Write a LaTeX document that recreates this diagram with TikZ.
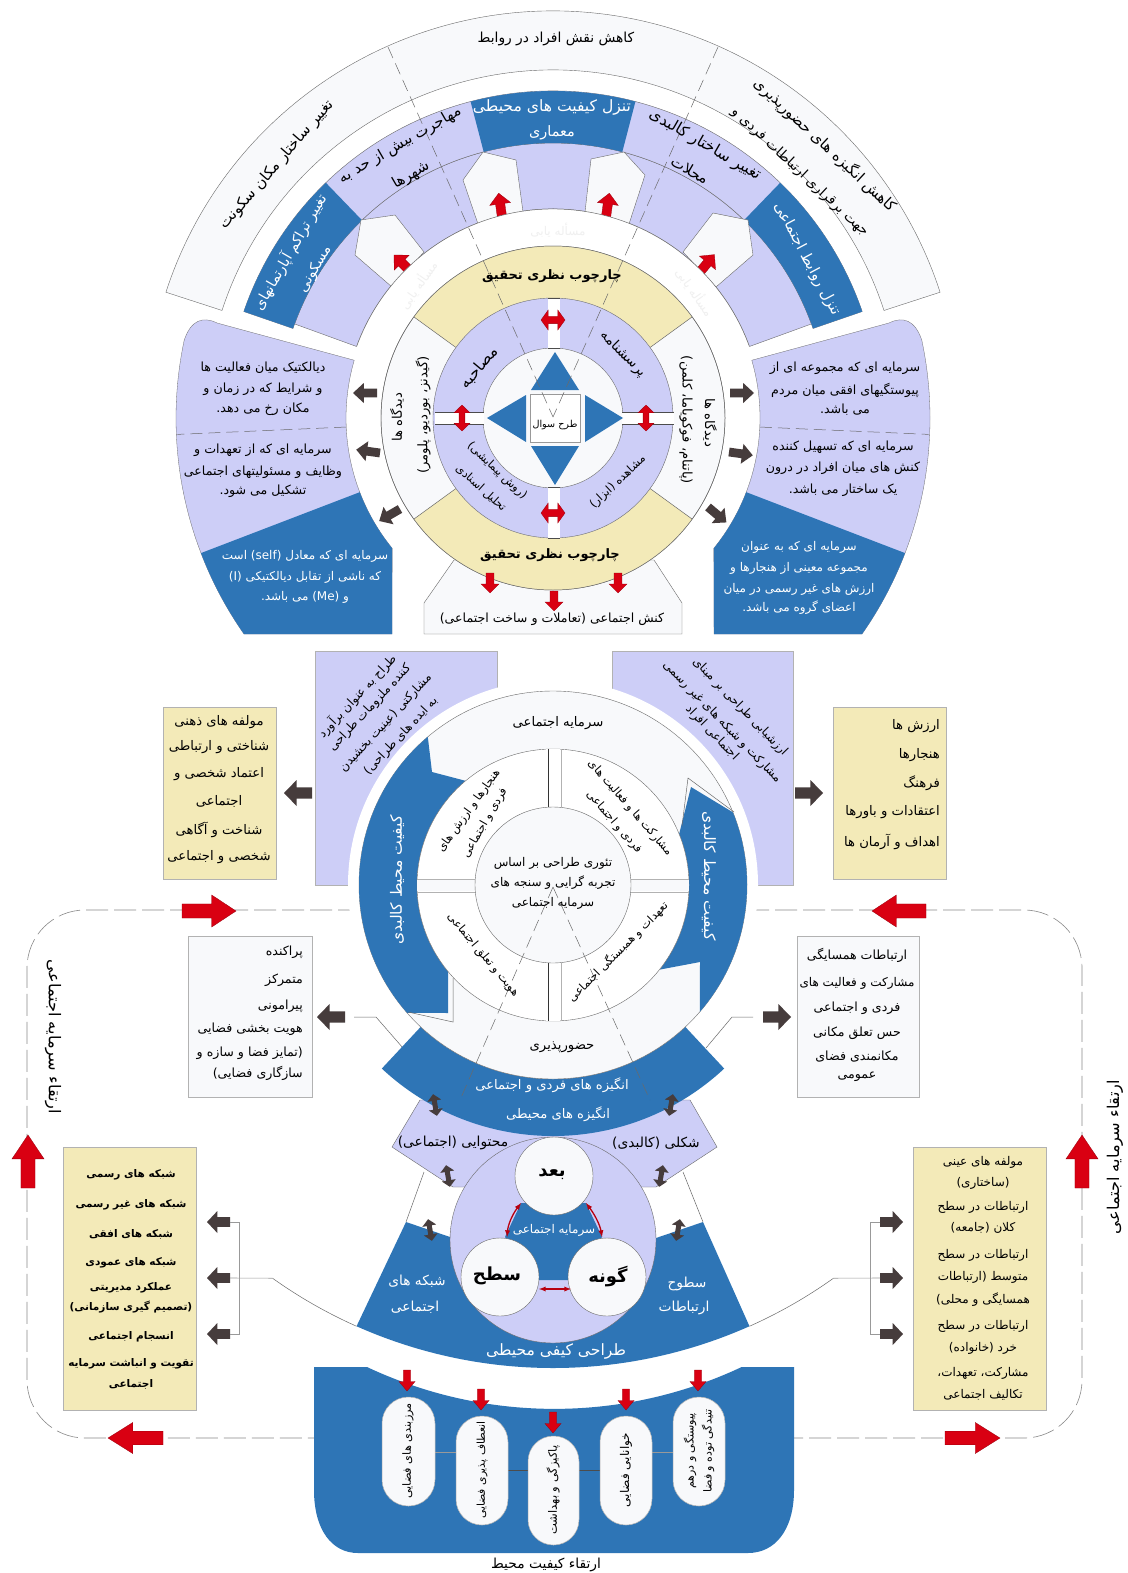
\documentclass[tikz,border=0pt]{standalone}
\usepackage{fontspec}
\newfontfamily\arfont[Script=Arabic]{DejaVu Sans}
\TeXXeTstate=1
\definecolor{lavc}{HTML}{CDCEF7}
\definecolor{bluc}{HTML}{2E75B6}
\definecolor{yelc}{HTML}{F3EAB8}
\definecolor{offc}{HTML}{F8F9FB}
\definecolor{redc}{HTML}{D90012}
\definecolor{darc}{HTML}{463C3C}
\definecolor{linc}{HTML}{6A6A6A}
\newcount\nc
\newcommand\lt[1]{\beginL #1\endL{}}
\newcommand\fsz[1]{\pgfmathsetmacro\fszv{#1*1.2}\fontsize{\fszv}{\fszv}\selectfont\arfont}
\newcommand\tx[5][]{\global\advance\nc by 1 \node[fs=10.5,inner sep=0pt,rotate=#4,#1] (t\the\nc) at (#2,-#3) {#5};}
\newcommand\seg[5][]{\path[#1] (#2:#4) arc[start angle=#2,end angle=#3,radius=#4] -- (#3:#5) arc[start angle=#3,end angle=#2,radius=#5] -- cycle;}
\newcommand\arw[6]{\path[#1,shift={(#2,-#3)},rotate=#4,xscale=#5,yscale=#6] (0,-.22)--(.55,-.22)--(.55,-.5)--(1,0)--(.55,.5)--(.55,.22)--(0,.22)--cycle;}
\newcommand\dbl[6]{\path[#1,shift={(#2,-#3)},rotate=#4,xscale=#5,yscale=#6] (-.5,0)--(-.2,.5)--(-.2,.18)--(.2,.18)--(.2,.5)--(.5,0)--(.2,-.5)--(.2,-.18)--(-.2,-.18)--(-.2,-.5)--cycle;}
\tikzset{
 fs/.style={font=\fsz{#1}},
 fb/.style={font=\fontsize{#1}{#1}\selectfont\arfont\bfseries},
 wt/.style={text=white},
 lav/.style={fill=lavc,draw=linc,line width=.4pt},
 blu/.style={fill=bluc,draw=none},
 yel/.style={fill=yelc,draw=none},
 off/.style={fill=offc,draw=linc,line width=.4pt},
 pbox/.style={draw=black!30,line width=.8pt},
 redar/.style={fill=redc,draw=redc!70!black,line width=.3pt},
 darar/.style={fill=darc,draw=none},
 thin1/.style={draw=linc,line width=.5pt},
 lite/.style={draw=black!40,line width=.6pt},
 dsh/.style={draw=linc,line width=.5pt,dash pattern=on 12pt off 6pt},
 frm/.style={draw=linc!80,line width=.6pt,dash pattern=on 22pt off 6pt},
}
\begin{document}
\begin{tikzpicture}[x=1pt,y=1pt]
\useasboundingbox (0,0) rectangle (1127,-1573);
\fill[white] (0,0) rectangle (1127,-1573);
% ---------- outer dashed frame
\draw[frm] (360,-910) -- (85,-910) arc[start angle=90,end angle=180,radius=58] -- (27,-1380) arc[start angle=180,end angle=270,radius=58] -- (314,-1438);
\draw[frm] (747,-910) -- (1024,-910) arc[start angle=90,end angle=0,radius=58] -- (1082,-1380) arc[start angle=0,end angle=-90,radius=58] -- (794,-1438);
% ---------- top group
\begin{scope}[shift={(553,-418)}]
 \seg[off]{18}{162}{348}{407}
 \seg[lav]{20}{160}{209}{275}
 \seg[lav]{19}{161}{275}{327}
 \seg[blu]{75.4}{104.6}{275}{327}
 \seg[blu]{134}{161}{275}{327}
 \seg[blu]{19}{46}{275}{327}
\end{scope}
\path[off] (483,-152)--(516,-160)--(523,-212)--(478,-224)--(463,-180)--cycle;
\path[off] (624,-152)--(591,-159)--(585,-212)--(629,-224)--(645,-175)--cycle;
\path[off] (361,-220)--(395,-215)--(424,-252)--(392,-287)--(355,-255)--cycle;
\path[off] (748,-220)--(713,-213)--(683,-252)--(716,-287)--(753,-255)--cycle;
\arw{redar}{502}{217}{98}{24}{21}
\arw{redar}{606}{217}{82}{24}{21}
\arw{redar}{411}{272}{135}{24}{21}
\arw{redar}{699}{273}{50}{24}{21}
\begin{scope}[shift={(553,-418)}]
 \path[fill=white] (0,0) circle[radius=209];
 \draw[thin1] (20:209) arc[start angle=20,end angle=160,radius=209];
\end{scope}
% side panels
\begin{scope}[shift={(553,-418)}]
 \path[fill=lavc,draw=linc,line width=.3pt] (163.8:207) arc[start angle=163.8,end angle=219,radius=207] -- (-161,-216) -- (-309,-216) arc[start angle=215,end angle=168,radius=376] .. controls (-362,98) and (-350,102) .. (-336,95) -- cycle;
 \path[blu] (201:207) arc[start angle=201,end angle=219,radius=207] -- (-161,-216) -- (-309,-216) arc[start angle=215,end angle=201,radius=376] -- cycle;
 \draw[dsh] (182.5:207) -- (182.5:376);
 \begin{scope}[xscale=-1]
 \path[fill=lavc,draw=linc,line width=.3pt] (163.8:207) arc[start angle=163.8,end angle=219,radius=207] -- (-161,-216) -- (-309,-216) arc[start angle=215,end angle=168,radius=376] .. controls (-362,98) and (-350,102) .. (-336,95) -- cycle;
 \path[blu] (201:207) arc[start angle=201,end angle=219,radius=207] -- (-161,-216) -- (-309,-216) arc[start angle=215,end angle=201,radius=376] -- cycle;
 \draw[dsh] (182.5:207) -- (182.5:376);
 \end{scope}
\end{scope}
% bottom box under the ring
\path[off] (454,-560)--(424,-603)--(424,-634)--(682,-634)--(682,-603)--(654,-560)--cycle;
\begin{scope}[shift={(553,-418)}]
 \path[off] (0,0) circle[radius=172];
 \seg[yel]{36}{144}{120}{172}
 \seg[yel]{216}{324}{120}{172}
 \draw[thin1] (36:120)--(36:172) (144:120)--(144:172) (216:120)--(216:172) (324:120)--(324:172);
 \draw[thin1] (0,0) circle[radius=172];
 \path[lav] (0,0) circle[radius=120];
 \path[off] (0,0) circle[radius=70];
\end{scope}
% connectors of the inner disc
\foreach \a/\b/\c/\d in {548/-298/560/-348, 548/-487/560/-538}{
 \path[fill=white] (\a,\b) rectangle (\c,\d);
 \draw[black!70,line width=.7pt] (\a,\b)--(\c,\b) (\a,\d)--(\c,\d);}
\foreach \a/\b/\c/\d in {435/-412/484/-424, 622/-412/674/-424}{
 \path[fill=white] (\a,\b) rectangle (\c,\d);
 \draw[black!70,line width=.7pt] (\a,\b)--(\c,\b) (\a,\d)--(\c,\d);}
\dbl{redar}{553}{320}{0}{24}{20}
\dbl{redar}{553}{513}{0}{24}{20}
\dbl{redar}{462}{418}{90}{26}{16}
\dbl{redar}{646}{418}{90}{26}{16}
% triangles + square
\path[blu] (555,-352)--(531,-390)--(579,-390)--cycle;
\path[blu] (555,-485)--(531,-446)--(579,-446)--cycle;
\path[blu] (487,-418)--(526,-395)--(526,-442)--cycle;
\path[blu] (623,-418)--(585,-395)--(585,-442)--cycle;
\path[fill=white,draw=black!40,line width=1pt] (530,-394) rectangle (580,-442);
% red arrows to bottom box
\arw{redar}{490}{573}{-90}{20}{18}
\arw{redar}{618}{573}{-90}{20}{18}
\arw{redar}{554}{591}{-90}{20}{18}
% dark arrows round the ring
\arw{darar}{377}{393}{180}{24}{20}
\arw{darar}{380}{453}{172}{24}{20}
\arw{darar}{400}{509}{210}{24}{20}
\arw{darar}{730}{393}{0}{24}{20}
\arw{darar}{729}{452}{-8}{24}{20}
\arw{darar}{708}{507}{-40}{24}{20}
% dashed radial lines
\draw[dsh] (388,-47) -- (553,-417);
\draw[dsh] (718,-47) -- (553,-417);
% ---------- middle group
\path[fill=lavc,pbox] (315,-651) rectangle (497,-885);
\path[fill=lavc,pbox] (612,-651) rectangle (793,-885);
\path[fill=yelc,pbox] (163,-707) rectangle (276,-879);
\path[fill=yelc,pbox] (833,-707) rectangle (946,-879);
\path[fill=offc,pbox] (188,-936) rectangle (312,-1097);
\path[fill=offc,pbox] (797,-936) rectangle (919,-1097);
\arw{darar}{312}{793}{180}{28}{26}
\arw{darar}{795}{793}{0}{28}{26}
\arw{darar}{345}{1017}{180}{28}{26}
\arw{darar}{763}{1017}{0}{28}{26}
\draw[thin1] (354,-1017)--(376,-1017)--(403,-1048);
\draw[thin1] (753,-1017)--(732,-1017)--(706,-1048);
% wings
\path[lav] (420,-1100)--(392,-1147)--(453,-1187)--(656,-1187)--(717,-1147)--(690,-1100)--cycle;
\begin{scope}[shift={(553,-885)}]
 \path[fill=white] (0,0) circle[radius=205];
 \seg[blu]{227}{313}{194}{251}
 \path[off] (0,0) circle[radius=194];
 \path[blu] (130.2:194) arc[start angle=130.2,end angle=221.2,radius=194] -- (-105,-128) -- (219.6:136) arc[start angle=219.6,end angle=130,radius=136] -- (-121,113) -- cycle;
 \path[blu] (22:194) arc[start angle=22,end angle=-40.8,radius=194] -- (147,-77) -- (-38.5:136) arc[start angle=-38.5,end angle=22,radius=136] -- (138,98) -- cycle;
 \draw[thin1] (129,59)--(135,107)--(181,73);
 \draw[thin1] (-145,-127)--(-100,-137)--(-100,-93);
 \path[fill=white,draw=linc,line width=.4pt] (0,0) circle[radius=136];
 \path[fill=offc,draw=none] (-136,-6) rectangle (136,6);
 \path[fill=white,draw=none] (-7,78) rectangle (7,136);
 \path[fill=white,draw=none] (-7,-78) rectangle (7,-136);
 \draw[black!80,line width=.7pt] (-5,78)--(-5,136) (-5,-78)--(-5,-136);
 \draw[black!30,line width=.7pt] (8,78)--(8,136) (8,-78)--(8,-136);
 \draw[black!30,line width=.5pt] (-136,6)--(-75,6) (-136,-7)--(-75,-7) (136,6)--(75,6) (136,-7)--(75,-7);
 \path[off] (0,0) circle[radius=78];
\end{scope}
\draw[dsh] (553,-887) -- (460,-1100);
\draw[dsh] (553,-887) -- (650,-1100);
% red frame arrows
\arw{redar}{182}{911}{0}{54}{32}
\arw{redar}{926}{911}{180}{54}{32}
\arw{redar}{163}{1438}{180}{55}{31}
\arw{redar}{945}{1438}{0}{55}{31}
\arw{redar}{28}{1188}{90}{53}{32}
\arw{redar}{1082}{1188}{90}{53}{32}
% ---------- lower group
\path[fill=yelc,pbox] (63,-1147) rectangle (196,-1410);
\path[fill=yelc,pbox] (913,-1147) rectangle (1046,-1410);
\foreach \y in {1222,1278,1334}{
 \arw{darar}{230}{\y}{180}{23}{22}
 \arw{darar}{880}{\y}{0}{23}{22}
}
\draw[lite] (230,-1222)--(239,-1222)--(239,-1334)--(230,-1334);
\draw[lite] (880,-1222)--(870,-1222)--(870,-1334)--(880,-1334);
\begin{scope}[shift={(553,-885)}]
 \path[blu] (246:483) arc[start angle=246,end angle=294,radius=483] -- (150,-337) -- (103,-353) -- (-100,-353) -- (-147,-337) -- cycle;
 \draw[thin1] (246:483) arc[start angle=246,end angle=234.5,radius=483];
 \draw[lite] (234.5:483) -- (-323,-393);
 \draw[thin1] (294:483) arc[start angle=294,end angle=305.5,radius=483];
 \draw[lite] (305.5:483) -- (327,-393);
\end{scope}
\draw[thin1] (424,-1172)--(406,-1222);
\draw[thin1] (683,-1172)--(703,-1222);
\path[lav] (553,-1240) circle[radius=103];
\path[blu] (521,-1203)--(586,-1203)--(602,-1237)--(568,-1280)--(539,-1280)--(505,-1237)--cycle;
\path[off] (554,-1176) circle[radius=39];
\path[off] (500,-1277) circle[radius=39];
\path[off] (607,-1277) circle[radius=39];
\draw[redc!85!black,line width=1.3pt,<->,>=latex] (521,-1203) .. controls (512,-1215) and (508,-1225) .. (507,-1237);
\draw[redc!85!black,line width=1.3pt,<->,>=latex] (586,-1203) .. controls (595,-1215) and (600,-1225) .. (602,-1237);
\draw[redc!85!black,line width=1.3pt,<->,>=latex] (539,-1289) -- (571,-1289);
\dbl{darar}{435}{1105}{100}{22}{14}
\dbl{darar}{671}{1105}{80}{22}{14}
\dbl{darar}{448}{1176}{100}{22}{14}
\dbl{darar}{661}{1176}{80}{22}{14}
\dbl{darar}{430}{1230}{100}{22}{14}
\dbl{darar}{678}{1230}{80}{22}{14}
% bottom panel
\path[blu] (314,-1367) -- (367,-1367) arc[start angle=244.8,end angle=295.2,radius=440] -- (794,-1367) -- (794,-1490) .. controls (794,-1530) and (775,-1553) .. (748,-1553) -- (358,-1553) .. controls (332,-1553) and (314,-1530) .. (314,-1490) -- cycle;
\draw[black!40,line width=.5pt] (435,-1452)--(456,-1452) (652,-1452)--(673,-1452);
\draw[black!70,line width=.7pt] (508,-1470)--(528,-1470) (579,-1470)--(600,-1470);
\foreach \a/\b/\c in {382/435/1397, 456/508/1416, 528/579/1436, 600/652/1416, 673/725/1397}{
 \pgfmathsetmacro\rr{(\b-\a)/2-.1}
 \pgfmathsetmacro\yb{-\c-109}
 \path[fill=offc,draw=black!30,line width=.5pt,rounded corners=\rr pt] (\a,-\c) rectangle (\b,\yb);
}
\foreach \x/\y in {407/1370,481/1389,553/1412,626/1389,698/1370}{\arw{redar}{\x}{\y}{-90}{21}{16}}
% ---------- texts : top group
\tx[fs=11.5]{556}{39}{0}{\beginR کاهش نقش افراد در روابط\endR}
\tx[fs=12.5]{277}{165}{49}{\beginR تغییر ساختار مکان سکونت\endR}
\tx[fs=12.5]{825}{145}{-43}{\beginR کاهش انگیزه های حضورپذیری\endR}
\tx[fs=11.5]{800}{172}{-43}{\beginR جهت برقراری ارتباطات فردی و\endR}
\tx[fs=13,wt]{552}{107}{0}{\beginR تنزل کیفیت های محیطی\endR}
\tx[fs=12,wt]{552}{133}{0}{\beginR معماری\endR}
\tx[fs=12.5]{400}{145}{30}{\beginR مهاجرت بیش از حد به\endR}
\tx[fs=12.5]{411}{175}{30}{\beginR شهرها\endR}
\tx[fs=13]{705}{145}{-30}{\beginR تغییر ساختار کالبدی\endR}
\tx[fs=12.5]{690}{170}{-30}{\beginR محلات\endR}
\tx[fs=12,wt]{290}{252}{60}{\beginR تغییر تراکم آپارتمانهای\endR}
\tx[fs=12,wt]{315}{269}{60}{\beginR مسکونی\endR}
\tx[fs=12.4,wt]{807}{259}{-62}{\beginR تنزل روابط اجتماعی\endR}
\tx[fs=10,text=black!6]{558}{230}{0}{\beginR مسأله یابی\endR}
\tx[fs=10,text=black!6]{418}{285}{55}{\beginR مسأله یابی\endR}
\tx[fs=10,text=black!6]{695}{292}{-55}{\beginR مسأله یابی\endR}
\tx[fb=13]{552}{276}{0}{\beginR چارچوب نظری تحقیق\endR}
\tx[fb=13]{550}{555}{0}{\beginR چارچوب نظری تحقیق\endR}
\tx[fs=11]{397}{417}{90}{\beginR دیدگاه ها\endR}
\tx[fs=11]{423}{415}{90}{\beginR (گیدنز، بوردیو، پلومر)\endR}
\tx[fs=11]{710}{423}{-90}{\beginR دیدگاه ها\endR}
\tx[fs=11]{686}{420}{-90}{\beginR (پاتنام، فوکویاما، کلمن)\endR}
\tx[fs=13]{479}{368}{50}{\beginR مصاحبه\endR}
\tx[fs=11.5]{623}{354}{-45}{\beginR پرسشنامه\endR}
\tx[fs=9.5]{481}{488}{-42}{\beginR تحلیل اسنادی\endR}
\tx[fs=9.5]{497}{471}{-43}{\beginR (روش پیمایشی)\endR}
\tx[fs=9.5]{618}{482}{43}{\beginR مشاهده (ابزار)\endR}
\tx[fs=8]{555}{425}{0}{\beginR طرح سوال\endR}
\tx{263}{368}{0}{\beginR دیالکتیک میان فعالیت ها\endR}
\tx{263}{389}{0}{\beginR و شرایط که در زمان و\endR}
\tx{263}{409}{0}{\beginR مکان رخ می دهد.\endR}
\tx{263}{450}{0}{\beginR سرمایه ای که از تعهدات و\endR}
\tx{263}{472}{0}{\beginR وظایف و مسئولیتهای اجتماعی\endR}
\tx{263}{491}{0}{\beginR تشکیل می شود.\endR}
\tx[fs=10,wt]{305}{556}{0}{\beginR سرمایه ای که معادل (\lt{self}) است\endR}
\tx[fs=10,wt]{305}{577}{0}{\beginR که ناشی از تقابل دیالکتیکی (\lt{I})\endR}
\tx[fs=10,wt]{305}{597}{0}{\beginR و (\lt{Me}) می باشد.\endR}
\tx{845}{368}{0}{\beginR سرمایه ای که مجموعه ای از\endR}
\tx{845}{390}{0}{\beginR پیوستگیهای افقی میان مردم\endR}
\tx{845}{410}{0}{\beginR می باشد.\endR}
\tx{843}{447}{0}{\beginR سرمایه ای که تسهیل کننده\endR}
\tx{843}{468}{0}{\beginR کنش های میان افراد در درون\endR}
\tx{843}{490}{0}{\beginR یک ساختار می باشد.\endR}
\tx[fs=10,wt]{799}{547}{0}{\beginR سرمایه ای که به عنوان\endR}
\tx[fs=10,wt]{799}{568}{0}{\beginR مجموعه معینی از هنجارها و\endR}
\tx[fs=10,wt]{799}{589}{0}{\beginR ارزش های غیر رسمی در میان\endR}
\tx[fs=10,wt]{799}{608}{0}{\beginR اعضای گروه می باشد.\endR}
\tx[fs=10.5]{552}{619}{0}{\beginR کنش اجتماعی (تعاملات و ساخت اجتماعی)\endR}
% middle
\tx[fs=11]{219}{722}{0}{\beginR مولفه های ذهنی\endR}
\tx[fs=11]{219}{747}{0}{\beginR شناختی و ارتباطی\endR}
\tx[fs=11]{219}{774}{0}{\beginR اعتماد شخصی و\endR}
\tx[fs=11]{219}{801}{0}{\beginR اجتماعی\endR}
\tx[fs=11]{219}{830}{0}{\beginR شناخت و آگاهی\endR}
\tx[fs=11]{219}{857}{0}{\beginR شخصی و اجتماعی\endR}
\tx[fs=11,anchor=east]{940}{726}{0}{\beginR ارزش ها\endR}
\tx[fs=11,anchor=east]{940}{755}{0}{\beginR هنجارها\endR}
\tx[fs=11,anchor=east]{940}{783}{0}{\beginR فرهنگ\endR}
\tx[fs=11,anchor=east]{940}{812}{0}{\beginR اعتقادات و باورها\endR}
\tx[fs=11,anchor=east]{940}{842}{0}{\beginR اهداف و آرمان ها\endR}
\tx[fs=10]{357}{696}{47}{\beginR طراح به عنوان برآورد\endR}
\tx[fs=10]{370}{708}{47}{\beginR کننده ملزومات طراحی\endR}
\tx[fs=10]{386}{723}{47}{\beginR مشارکتی (عینیت بخشیدن\endR}
\tx[fs=10]{401}{736}{47}{\beginR به ایده های طراحی)\endR}
\tx[fs=10]{740}{707}{-46}{\beginR ارزشیابی طراحی بر مبنای\endR}
\tx[fs=10]{722}{722}{-46}{\beginR مشارکت و شبکه های غیر رسمی\endR}
\tx[fs=10]{712}{733}{-46}{\beginR اجتماعی افراد\endR}
\tx[fs=11]{558}{723}{0}{\beginR سرمایه اجتماعی\endR}
\tx[fs=11]{562}{1047}{0}{\beginR حضورپذیری\endR}
\tx[fs=13,wt]{397}{880}{90}{\beginR کیفیت محیط کالبدی\endR}
\tx[fs=13,wt]{709}{876}{-90}{\beginR کیفیت محیط کالبدی\endR}
\tx[fs=9.5]{630}{808}{-49}{\beginR مشارکت ها و فعالیت های\endR}
\tx[fs=9.5]{614}{822}{-49}{\beginR فردی و اجتماعی\endR}
\tx[fs=9.5]{469}{811}{54}{\beginR هنجارها و ارزش های\endR}
\tx[fs=9.5]{485}{823}{60}{\beginR فردی و اجتماعی\endR}
\tx[fs=9.5]{483}{955}{-50}{\beginR هویت و تعلق اجتماعی\endR}
\tx[fs=9.5]{618}{952}{45}{\beginR تعهدات و همبستگی اجتماعی\endR}
\tx[fs=10]{553}{863}{0}{\beginR تئوری طراحی بر اساس\endR}
\tx[fs=10]{553}{883}{0}{\beginR تجربه گرایی و سنجه های\endR}
\tx[fs=10]{553}{903}{0}{\beginR سرمایه اجتماعی\endR}
\tx[anchor=east]{303}{952}{0}{\beginR پراکنده\endR}
\tx[anchor=east]{303}{980}{0}{\beginR متمرکز\endR}
\tx[anchor=east]{303}{1006}{0}{\beginR پیرامونی\endR}
\tx[anchor=east]{303}{1029}{0}{\beginR هویت بخشی فضایی\endR}
\tx[anchor=east]{303}{1053}{0}{\beginR (تمایز فضا و سازه و\endR}
\tx[anchor=east]{303}{1073}{0}{\beginR سازگاری فضایی)\endR}
\tx{857}{955}{0}{\beginR ارتباطات همسایگی\endR}
\tx[fs=10]{857}{983}{0}{\beginR مشارکت و فعالیت های\endR}
\tx{857}{1008}{0}{\beginR فردی و اجتماعی\endR}
\tx{857}{1033}{0}{\beginR حس تعلق مکانی\endR}
\tx{857}{1057}{0}{\beginR مکانمندی فضای\endR}
\tx{857}{1077}{0}{\beginR عمومی\endR}
\tx[fs=11,wt]{552}{1085}{0}{\beginR انگیزه های فردی و اجتماعی\endR}
\tx[fs=11,wt]{558}{1114}{0}{\beginR انگیزه های محیطی\endR}
\tx[fs=11.5]{453}{1143}{0}{\beginR محتوایی (اجتماعی)\endR}
\tx[fs=11.5]{656}{1143}{0}{\beginR شکلی (کالبدی)\endR}
\tx[fb=18]{552}{1174}{0}{\beginR بعد\endR}
\tx[fb=18]{497}{1276}{0}{\beginR سطح\endR}
\tx[fb=18]{608}{1276}{0}{\beginR گونه\endR}
\tx[fs=10,wt]{554}{1230}{0}{\beginR سرمایه اجتماعی\endR}
\tx[fs=11.5,wt]{417}{1281}{0}{\beginR شبکه های\endR}
\tx[fs=11.5,wt]{415}{1307}{0}{\beginR اجتماعی\endR}
\tx[fs=11.5,wt]{687}{1284}{0}{\beginR سطوح\endR}
\tx[fs=11.5,wt]{684}{1308}{0}{\beginR ارتباطات\endR}
\tx[fs=13,wt]{556}{1351}{0}{\beginR طراحی کیفی محیطی\endR}
% yellow lower left
\tx[fb=10.5]{131}{1175}{0}{\beginR شبکه های رسمی\endR}
\tx[fb=10.5]{131}{1205}{0}{\beginR شبکه های غیر رسمی\endR}
\tx[fb=10.5]{131}{1234}{0}{\beginR شبکه های افقی\endR}
\tx[fb=10.5]{131}{1263}{0}{\beginR شبکه های عمودی\endR}
\tx[fb=10.5]{131}{1288}{0}{\beginR عملکرد مدیریتی\endR}
\tx[fb=10.5]{131}{1307}{0}{\beginR (تصمیم گیری سازمانی)\endR}
\tx[fb=10.5]{131}{1337}{0}{\beginR انسجام اجتماعی\endR}
\tx[fb=10.5]{131}{1364}{0}{\beginR تقویت و انباشت سرمایه\endR}
\tx[fb=10.5]{131}{1384}{0}{\beginR اجتماعی\endR}
\tx[fs=10]{983}{1162}{0}{\beginR مولفه های عینی\endR}
\tx[fs=10]{983}{1183}{0}{\beginR (ساختاری)\endR}
\tx[fs=10]{983}{1207}{0}{\beginR ارتباطات در سطح\endR}
\tx[fs=10]{983}{1228}{0}{\beginR کلان (جامعه)\endR}
\tx[fs=10]{983}{1255}{0}{\beginR ارتباطات در سطح\endR}
\tx[fs=10]{983}{1277}{0}{\beginR متوسط (ارتباطات\endR}
\tx[fs=10]{983}{1300}{0}{\beginR همسایگی و محلی)\endR}
\tx[fs=10]{983}{1326}{0}{\beginR ارتباطات در سطح\endR}
\tx[fs=10]{983}{1348}{0}{\beginR خرد (خانواده)\endR}
\tx[fs=10]{983}{1373}{0}{\beginR مشارکت، تعهدات،\endR}
\tx[fs=10]{983}{1395}{0}{\beginR تکالیف اجتماعی\endR}
\tx[fs=9.4]{408}{1451}{90}{\beginR مرزبندی های فضایی\endR}
\tx[fs=9]{482}{1470}{90}{\beginR انعطاف پذیری فضایی\endR}
\tx[fs=9.6]{553}{1490}{90}{\beginR پاکیزگی و بهداشت\endR}
\tx[fs=10]{626}{1470}{90}{\beginR خوانایی فضایی\endR}
\tx[fs=9.2]{690}{1451}{90}{\beginR پیوستگی و درهم\endR}
\tx[fs=9.2]{708}{1451}{90}{\beginR تنیدگی توده و فضا\endR}
\tx[fs=11.5]{546}{1565}{0}{\beginR ارتقاء کیفیت محیط\endR}
\tx[fs=13.5]{53}{1037}{-90}{\beginR ارتقاء سرمایه اجتماعی\endR}
\tx[fs=13.5]{1115}{1157}{90}{\beginR ارتقاء سرمایه اجتماعی\endR}
\end{tikzpicture}
\end{document}
